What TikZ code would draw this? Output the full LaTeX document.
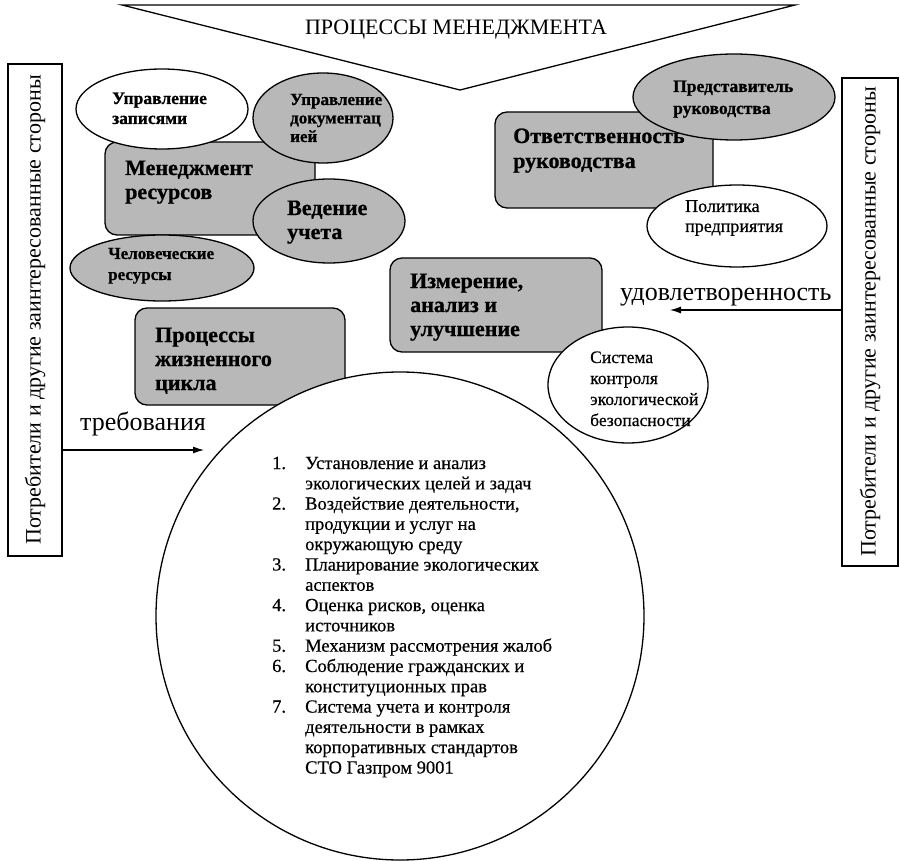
\documentclass[tikz,border=0pt]{standalone}
\usepackage{fontspec}
\setmainfont{Liberation Serif}[BoldFeatures={FakeBold=0.8}]
\newfontfamily\medfont{Liberation Serif}[FakeBold=0.5]
\usetikzlibrary{shapes.geometric,arrows.meta}
\newcommand{\tl}[1]{\begin{tabular}[t]{@{}l@{}}#1\end{tabular}}
\newcommand{\nm}[1]{\makebox[33pt][l]{#1}}
\begin{document}
\begin{tikzpicture}[x=1pt,y=-1pt,
  box/.style={draw, line width=1.3pt, fill=black!28, rounded corners=12pt, inner sep=0pt},
  ell/.style={draw, line width=1.3pt, ellipse, inner sep=0pt},
  gell/.style={ell, fill=black!28},
  well/.style={ell, fill=white},
  lbl/.style={anchor=base west, inner sep=0pt},
  bigb/.style={lbl, font=\bfseries\fontsize{22}{24}\selectfont},
  smb/.style={lbl, font=\bfseries\fontsize{17}{19}\selectfont},
  smn/.style={lbl, font=\medfont\fontsize{17.5}{21}\selectfont},
  side/.style={draw, line width=1.2pt, rotate=90, inner sep=0pt, font=\fontsize{22}{24}\selectfont},
  arr/.style={line width=1.2pt, -{Latex[length=11pt,width=7pt]}}]
\useasboundingbox (0,0) rectangle (900,861);

% title polygon
\coordinate (pl) at (122,5);
\coordinate (pr) at (795,5);
\coordinate (pb) at (460,90);
\draw[line width=1.3pt] (pl) -- (pr) -- (pb) -- cycle;
\node[anchor=base, inner sep=0pt, font=\fontsize{22}{24}\selectfont] (title) at (456,35) {ПРОЦЕССЫ МЕНЕДЖМЕНТА};

% side boxes
\node[side, minimum width=492pt, minimum height=54pt] (lbox) at (35,310) {Потребители и другие заинтересованные стороны};
\node[side, minimum width=488pt, minimum height=56pt] (rbox) at (870,322) {Потребители и другие заинтересованные стороны};

% arrows
\coordinate (reqtip) at (204,450);
\coordinate (sattip) at (670,310);
\draw[arr] (lbox.south |- reqtip) -- (reqtip);
\draw[arr] (rbox.north |- sattip) -- (sattip);
\node[lbl, font=\fontsize{26}{28}\selectfont] (req) at (80,430) {требования};
\node[lbl, font=\fontsize{26}{28}\selectfont] (sat) at (620,301) {удовлетворенность};

% boxes
\node[box, minimum width=210pt, minimum height=93pt] (mgmt) at (210,188.5) {};
\node[bigb] (mgmtt) at (125,175) {\tl{Менеджмент\\ресурсов}};
\node[box, minimum width=210pt, minimum height=97pt] (proc) at (240,356.5) {};
\node[bigb] (proct) at (155,342) {\tl{Процессы\\жизненного\\цикла}};
\node[box, minimum width=218pt, minimum height=96pt] (resp) at (604,160) {};
\node[bigb, font=\bfseries\fontsize{22}{25}\selectfont] (respt) at (513,143) {\tl{Ответственность\\руководства}};
\node[box, minimum width=212pt, minimum height=94pt] (meas) at (496,305) {};
\node[bigb] (meast) at (410,288) {\tl{Измерение,\\анализ и\\улучшение}};

% ellipses
\node[well, minimum width=172pt, minimum height=80pt] (rec) at (162,109) {};
\node[smb, font=\bfseries\fontsize{17.5}{20}\selectfont] (rect) at (112,104) {\tl{Управление\\записями}};
\node[gell, minimum width=140pt, minimum height=90pt] (doc) at (323,118) {};
\node[smb, font=\bfseries\fontsize{17}{18.5}\selectfont] (doct) at (290,105) {\tl{Управление\\документац\\ией}};
\node[gell, minimum width=152pt, minimum height=84pt] (acc) at (329,221) {};
\node[bigb] (acct) at (287,215) {\tl{Ведение\\учета}};
\node[gell, minimum width=184pt, minimum height=66pt] (hr) at (162,268) {};
\node[smb, font=\bfseries\fontsize{17}{21}\selectfont] (hrt) at (108,259) {\tl{Человеческие\\ресурсы}};
\node[gell, minimum width=202pt, minimum height=86pt] (rep) at (734,97) {};
\node[smb, font=\bfseries\fontsize{17.5}{22}\selectfont] (rept) at (673,92) {\tl{Представитель\\руководства}};
\node[well, minimum width=180pt, minimum height=82pt] (pol) at (737,226) {};
\node[smn, font=\medfont\fontsize{18}{20}\selectfont] (polt) at (685,212) {\tl{Политика\\предприятия}};

% central circle
\node[draw, line width=1.3pt, circle, fill=white, minimum size=488pt, inner sep=0pt] (core) at (400,616) {};
\node[lbl, font=\medfont\fontsize{18.5}{20.3}\selectfont] (list) at (272,469) {\begin{tabular}[t]{@{}l@{}l@{}}
\nm{1.}&Установление и анализ\\
&экологических целей и задач\\
\nm{2.}&Воздействие деятельности,\\
&продукции и услуг на\\
&окружающую среду\\
\nm{3.}&Планирование экологических\\
&аспектов\\
\nm{4.}&Оценка рисков, оценка\\
&источников\\
\nm{5.}&Механизм рассмотрения жалоб\\
\nm{6.}&Соблюдение гражданских и\\
&конституционных прав\\
\nm{7.}&Система учета и контроля\\
&деятельности в рамках\\
&корпоративных стандартов\\
&СТО Газпром 9001
\end{tabular}};

\node[well, minimum width=160pt, minimum height=116pt] (sys) at (628,385) {};
\node[smn] (syst) at (590,363) {\tl{Система\\контроля\\экологической\\безопасности}};
\end{tikzpicture}
\end{document}
